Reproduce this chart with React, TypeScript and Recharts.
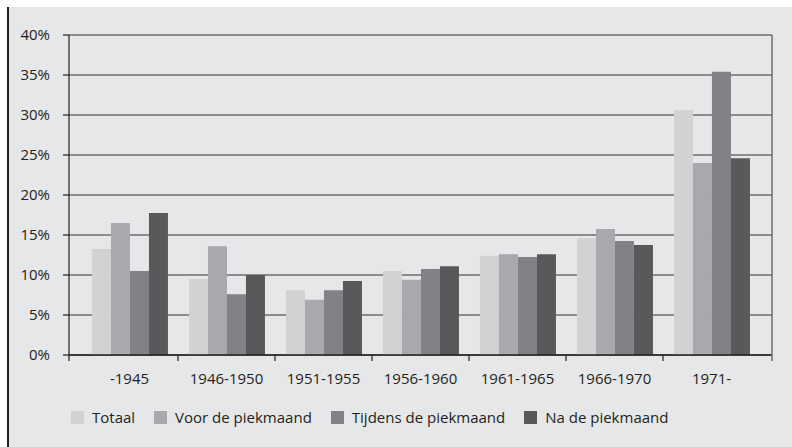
import { BarChart, Bar, XAxis, YAxis, CartesianGrid, Legend } from "recharts";

const periods = ["-1945", "1946-1950", "1951-1955", "1956-1960", "1961-1965", "1966-1970", "1971-"];
const totaal = [13.25, 9.5, 8.1, 10.5, 12.4, 14.6, 30.6];
const voor = [16.5, 13.6, 6.9, 9.4, 12.6, 15.75, 24.0];
const tijdens = [10.5, 7.6, 8.1, 10.75, 12.25, 14.25, 35.4];
const na = [17.75, 10.0, 9.25, 11.1, 12.6, 13.75, 24.6];
const yTicks = [0, 5, 10, 15, 20, 25, 30, 35, 40];

const seriesInfo = [
    { key: "totaal", label: "Totaal", color: "#d1d2d4" },
    { key: "voor", label: "Voor de piekmaand", color: "#a7a9ac" },
    { key: "tijdens", label: "Tijdens de piekmaand", color: "#808285" },
    { key: "na", label: "Na de piekmaand", color: "#58595b" },
];

const data = periods.map((p, i) => ({
    period: p,
    totaal: totaal[i],
    voor: voor[i],
    tijdens: tijdens[i],
    na: na[i],
}));

const textColor = "#231f20";
const fontSize = 15;
const axisPad = 12;

function PeriodTick(props: any) {
    const { x, y, payload, index, visibleTicksCount } = props;
    const half = payload && payload.offset ? payload.offset : 48.5;
    const top = y - 12 - 6;
    const left = index === 0 ? x - half - axisPad : x - half;
    return (
        <g>
            <line x1={left} x2={left} y1={top} y2={top + 6} stroke={textColor} strokeWidth={1.2} />
            {index === visibleTicksCount - 1 && (
                <line x1={x + half + axisPad} x2={x + half + axisPad} y1={top} y2={top + 6} stroke="#6d6e70" strokeWidth={1.5} />
            )}
            <text x={x} y={y} dy="0.71em" textAnchor="middle" fill={textColor} fontSize={fontSize}>
                {payload.value}
            </text>
        </g>
    );
}

function LegendContent() {
    return (
        <div style={{ display: "flex", alignItems: "center", height: 20, fontSize, color: textColor }}>
            {seriesInfo.map((s) => (
                <div key={s.key} style={{ display: "flex", alignItems: "center", marginRight: 19 }}>
                    <span style={{ display: "inline-block", width: 13, height: 13, background: s.color, marginRight: 8 }} />
                    <span>{s.label}</span>
                </div>
            ))}
        </div>
    );
}

export default function App() {
    return (
        <div style={{ position: "absolute", left: 0, top: 0, width: 792, height: 447, background: "#ffffff", fontFamily: "'Open Sans', sans-serif" }}>
            <div style={{ position: "absolute", left: 7, top: 7, width: 783, height: 440, background: "#e6e7e8", borderLeft: `2px solid ${textColor}` }}>
                <BarChart
                    width={783}
                    height={440}
                    data={data}
                    margin={{ top: 28, right: 0, bottom: 5, left: 0 }}
                    barCategoryGap="11.3%"
                    barGap={0}
                >
                    <CartesianGrid vertical={false} stroke="#6d6e70" strokeWidth={1.5} />
                    <XAxis
                        dataKey="period"
                        height={47}
                        padding={{ left: axisPad, right: axisPad }}
                        tickLine={false}
                        tickMargin={12}
                        tickSize={6}
                        axisLine={{ stroke: textColor, strokeWidth: 1.5 }}
                        tick={<PeriodTick />}
                        interval={0}
                    />
                    <YAxis
                        width={60}
                        domain={[0, 40]}
                        ticks={yTicks}
                        tickFormatter={(v) => `${v}%`}
                        tick={{ fill: textColor, fontSize }}
                        tickSize={6}
                        tickMargin={13}
                        tickLine={{ stroke: textColor, strokeWidth: 1.2 }}
                        axisLine={{ stroke: textColor, strokeWidth: 1.2 }}
                    />
                    <YAxis
                        yAxisId="right"
                        orientation="right"
                        width={20}
                        tick={false}
                        tickLine={false}
                        axisLine={{ stroke: "#6d6e70", strokeWidth: 1.5 }}
                    />
                    <Legend
                        verticalAlign="bottom"
                        align="left"
                        height={40}
                        content={<LegendContent />}
                        wrapperStyle={{ left: 62, top: 400, width: 700, height: 40 }}
                    />
                    {seriesInfo.map((s) => (
                        <Bar key={s.key} dataKey={s.key} name={s.label} fill={s.color} isAnimationActive={false} />
                    ))}
                </BarChart>
            </div>
        </div>
    );
}
